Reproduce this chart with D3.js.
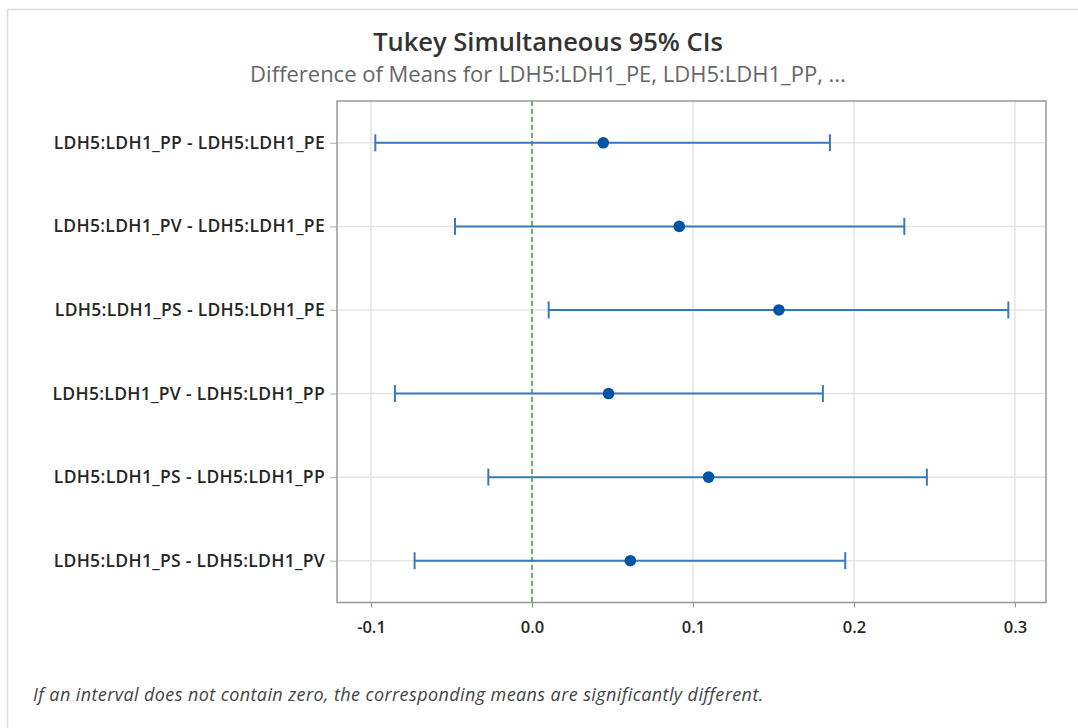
<!DOCTYPE html>
<html>
<head>
<meta charset="utf-8">
<script src="https://cdn.jsdelivr.net/npm/d3@7"></script>
<style>
  body { margin: 0; background: #fff; }
  svg { display: block; }
  text { font-family: "Open Sans", "Noto Sans", sans-serif; }
</style>
</head>
<body>
<svg id="chart" width="1078" height="728"></svg>
<script>
const comparisons = [
  "LDH5:LDH1_PP - LDH5:LDH1_PE",
  "LDH5:LDH1_PV - LDH5:LDH1_PE",
  "LDH5:LDH1_PS - LDH5:LDH1_PE",
  "LDH5:LDH1_PV - LDH5:LDH1_PP",
  "LDH5:LDH1_PS - LDH5:LDH1_PP",
  "LDH5:LDH1_PS - LDH5:LDH1_PV"
];
const lowerCI = [-0.0973, -0.0478, 0.0104, -0.0851, -0.0271, -0.0729];
const meanDiff = [0.0443, 0.0915, 0.1534, 0.0476, 0.1097, 0.0611];
const upperCI = [0.1851, 0.2313, 0.2959, 0.1807, 0.2453, 0.1946];
const xTicks = [-0.1, 0.0, 0.1, 0.2, 0.3];
const xTickLabels = ["-0.1", "0.0", "0.1", "0.2", "0.3"];
const xDomain = [-0.1211, 0.3193];

const titleText = "Tukey Simultaneous 95% CIs";
const subtitleText = "Difference of Means for LDH5:LDH1_PE, LDH5:LDH1_PP, ...";
const footnoteText = "If an interval does not contain zero, the corresponding means are significantly different.";

const svg = d3.select("#chart");

// outer frame
svg.append("rect")
  .attr("x", 7.5).attr("y", 9.5)
  .attr("width", 1100).attr("height", 760)
  .attr("fill", "none").attr("stroke", "#dcdcdc").attr("stroke-width", 1.5);

const plot = { left: 337, right: 1046, top: 101, bottom: 602.5 };

const x = d3.scaleLinear().domain(xDomain).range([plot.left, plot.right]);
const y = d3.scalePoint().domain(comparisons).range([plot.top, plot.bottom]).padding(0.5);

const data = comparisons.map((c, i) => ({ c, lo: lowerCI[i], m: meanDiff[i], hi: upperCI[i] }));

// grid
svg.append("g").selectAll("line").data(xTicks).join("line")
  .attr("x1", d => x(d)).attr("x2", d => x(d))
  .attr("y1", plot.top).attr("y2", plot.bottom)
  .attr("stroke", "#e5e5e5").attr("stroke-width", 1.5);
svg.append("g").selectAll("line").data(comparisons).join("line")
  .attr("x1", plot.left).attr("x2", plot.right)
  .attr("y1", d => y(d)).attr("y2", d => y(d))
  .attr("stroke", "#e5e5e5").attr("stroke-width", 1.5);

// axes
const xAxis = d3.axisBottom(x).tickValues(xTicks)
  .tickFormat((d, i) => xTickLabels[i]).tickSize(5).tickSizeOuter(0);
const gx = svg.append("g").attr("transform", `translate(0,${plot.bottom})`).call(xAxis);
gx.select(".domain").remove();
gx.selectAll(".tick line").attr("stroke", "#999").attr("stroke-width", 1.2);
gx.selectAll(".tick text").attr("fill", "#262626").attr("font-size", 16.5).attr("font-weight", 600)
  .attr("dy", null).attr("y", 0).attr("transform", "translate(0,30)");

const yAxis = d3.axisLeft(y).tickSize(7).tickSizeOuter(0).tickPadding(5);
const gy = svg.append("g").attr("transform", `translate(${plot.left},0)`).call(yAxis);
gy.select(".domain").remove();
gy.selectAll(".tick line").attr("stroke", "#bbb").attr("stroke-width", 1.2);
gy.selectAll(".tick text").attr("fill", "#262626").attr("font-size", 17.5).attr("font-weight", 600)
  .attr("letter-spacing", 0.3);

// zero reference line
svg.append("line")
  .attr("x1", x(0)).attr("x2", x(0))
  .attr("y1", plot.top).attr("y2", plot.bottom)
  .attr("stroke", "#3aa346").attr("stroke-width", 1.5).attr("stroke-dasharray", "5,3");

// plot frame
svg.append("rect")
  .attr("x", plot.left).attr("y", plot.top)
  .attr("width", plot.right - plot.left).attr("height", plot.bottom - plot.top)
  .attr("fill", "none").attr("stroke", "#999").attr("stroke-width", 1.5);

// intervals
const g = svg.append("g");
g.selectAll("line.ci").data(data).join("line").attr("class", "ci")
  .attr("x1", d => x(d.lo)).attr("x2", d => x(d.hi))
  .attr("y1", d => y(d.c)).attr("y2", d => y(d.c))
  .attr("stroke", "#3a78bd").attr("stroke-width", 2);
g.selectAll("line.capl").data(data).join("line").attr("class", "capl")
  .attr("x1", d => x(d.lo)).attr("x2", d => x(d.lo))
  .attr("y1", d => y(d.c) - 8.5).attr("y2", d => y(d.c) + 8.5)
  .attr("stroke", "#3a78bd").attr("stroke-width", 2);
g.selectAll("line.caph").data(data).join("line").attr("class", "caph")
  .attr("x1", d => x(d.hi)).attr("x2", d => x(d.hi))
  .attr("y1", d => y(d.c) - 8.5).attr("y2", d => y(d.c) + 8.5)
  .attr("stroke", "#3a78bd").attr("stroke-width", 2);
g.selectAll("circle").data(data).join("circle")
  .attr("cx", d => x(d.m)).attr("cy", d => y(d.c)).attr("r", 5.8)
  .attr("fill", "#0054a6");

// titles
svg.append("text").attr("x", 548).attr("y", 51).attr("text-anchor", "middle")
  .attr("font-size", 25.5).attr("font-weight", 600).attr("fill", "#333").text(titleText);
svg.append("text").attr("x", 548).attr("y", 82).attr("text-anchor", "middle")
  .attr("font-size", 22).attr("fill", "#666").text(subtitleText);

// footnote
svg.append("text").attr("x", 33).attr("y", 701)
  .attr("font-size", 18).attr("letter-spacing", 0.4).attr("font-style", "italic").attr("fill", "#444").text(footnoteText);
</script>
</body>
</html>
